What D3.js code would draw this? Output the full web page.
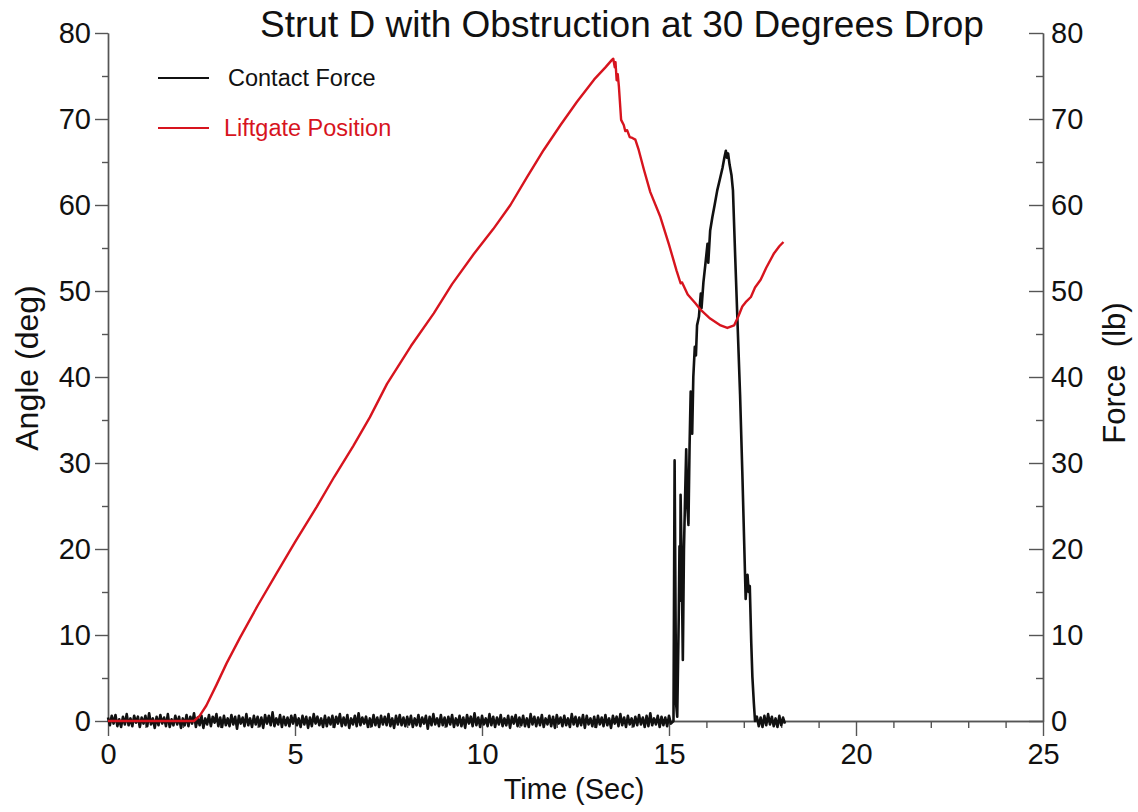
<!DOCTYPE html>
<html>
<head>
<meta charset="utf-8">
<script src="https://cdn.jsdelivr.net/npm/d3@7"></script>
<style>
  body { margin: 0; background: #fff; }
  svg { display: block; font-family: Arial, "Liberation Sans", sans-serif; }
  .axis path, .axis line { stroke: #555; stroke-width: 1.4; }
  .axis text { font-size: 29px; fill: #111; font-family: Arial, "Liberation Sans", sans-serif; }
</style>
</head>
<body>
<svg id="chart" width="1138" height="812"></svg>
<script>
// Liftgate position (deg)
var angleTime = [0, 2.3, 2.45, 2.63, 2.9, 3.17, 3.53, 4.0, 4.51, 5.0, 5.58, 6.05, 6.56, 7.0, 7.46, 8.1, 8.71, 9.2, 9.78,
    10.3, 10.76, 11.2, 11.65, 12.1, 12.54, 13.0, 13.3, 13.48, 13.51, 13.55, 13.57, 13.6, 13.63, 13.66, 13.72, 13.79, 13.83,
    13.88, 13.95, 14.02, 14.1, 14.19, 14.33, 14.5, 14.77, 15.0, 15.2, 15.31, 15.35, 15.5, 15.7, 15.85, 16.1, 16.38, 16.56,
    16.74, 16.85, 16.96, 17.05, 17.19, 17.3, 17.45, 17.6, 17.81, 17.95, 18.06];
var angleDeg = [0, 0, 0.6, 1.8, 4.2, 6.7, 9.7, 13.4, 17.2, 20.8, 24.9, 28.4, 32.0, 35.3, 39.2, 43.6, 47.4, 50.8, 54.3,
    57.2, 60.0, 63.2, 66.4, 69.3, 72.0, 74.6, 76.0, 76.9, 77.0, 76.0, 76.6, 74.5, 75.2, 73.8, 69.9, 69.3, 68.6,
    68.7, 67.9, 67.8, 67.6, 66.4, 64.1, 61.5, 58.6, 55.4, 52.4, 50.9, 51.0, 49.6, 48.6, 47.8, 46.8, 46.0, 45.7,
    46.0, 47.0, 48.2, 48.7, 49.3, 50.4, 51.3, 52.7, 54.4, 55.2, 55.7];

// Contact force (lb): baseline noise before contact, sampled every 0.05 s from t = 0
var noiseStep = 0.05;
var forceNoiseBefore = [
    0.4,-0.5,0.6,-0.3,0.7,-0.6,0.2,-0.7,0.5,-0.4,0.8,-0.5,0.3,-0.6,0.6,-0.2,0.5,-0.7,0.4,-0.3,
    0.6,-0.6,0.9,-0.4,0.3,-0.8,0.5,-0.5,0.7,-0.3,0.4,-0.6,0.8,-0.7,0.2,-0.5,0.6,-0.4,0.5,-0.8,
    0.3,-0.5,0.7,-0.6,0.5,-0.3,0.9,-0.7,0.4,-0.5,0.6,-0.8,0.3,-0.4,0.7,-0.6,0.5,-0.2,0.8,-0.6,
    0.4,-0.7,0.6,-0.5,0.3,-0.6,0.7,-0.4,0.5,-0.9,0.6,-0.3,0.4,-0.6,0.8,-0.5,0.3,-0.7,0.6,-0.4,
    0.5,-0.6,0.4,-0.8,0.7,-0.3,0.6,-0.5,1.0,-0.6,0.3,-0.4,0.7,-0.7,0.5,-0.5,0.4,-0.6,0.6,-0.3,
    0.7,-0.5,0.3,-0.7,0.6,-0.4,0.5,-0.8,0.4,-0.6,0.8,-0.3,0.5,-0.5,0.3,-0.7,0.6,-0.6,0.4,-0.4,
    0.6,-0.7,0.5,-0.3,0.8,-0.6,0.4,-0.5,0.7,-0.8,0.3,-0.4,0.6,-0.6,0.9,-0.5,0.4,-0.3,0.5,-0.7,
    0.3,-0.6,0.7,-0.5,0.4,-0.7,0.6,-0.4,0.5,-0.5,0.8,-0.6,0.3,-0.8,0.6,-0.4,0.7,-0.5,0.4,-0.6,
    0.5,-0.4,0.6,-0.7,0.3,-0.5,0.7,-0.6,0.4,-0.3,0.6,-0.9,0.5,-0.5,0.8,-0.4,0.3,-0.6,0.7,-0.5,
    0.4,-0.6,0.5,-0.4,0.7,-0.7,0.3,-0.5,0.6,-0.6,0.4,-0.8,0.7,-0.3,0.5,-0.6,0.9,-0.5,0.4,-0.7,
    0.6,-0.4,0.3,-0.6,0.8,-0.5,0.5,-0.7,0.4,-0.4,0.7,-0.6,0.3,-0.5,0.6,-0.8,0.5,-0.3,0.7,-0.6,
    0.4,-0.5,0.6,-0.6,0.3,-0.7,0.8,-0.4,0.5,-0.6,0.4,-0.5,0.7,-0.7,0.3,-0.4,0.6,-0.6,0.5,-0.8,
    0.7,-0.3,0.4,-0.6,0.6,-0.5,0.3,-0.7,0.8,-0.4,0.5,-0.6,0.4,-0.5,0.7,-0.8,0.6,-0.4,0.3,-0.6,
    0.5,-0.7,0.6,-0.4,0.4,-0.6,0.7,-0.5,0.3,-0.8,0.6,-0.3,0.5,-0.6,0.8,-0.5,0.4,-0.7,0.6,-0.4,
    0.3,-0.6,0.5,-0.5,0.7,-0.4,0.4,-0.7,0.6,-0.6,0.9,-0.5,0.3,-0.4,0.6,-0.7,0.5,-0.5,0.4,-0.6,
    0.6,-0.3];

// Contact event
var impactTime = [15.12, 15.15, 15.19, 15.22, 15.26, 15.28, 15.30, 15.31, 15.34, 15.37, 15.40, 15.43, 15.46, 15.49,
    15.52, 15.55, 15.58, 15.62, 15.65, 15.69, 15.72, 15.75, 15.80, 15.85, 15.87, 15.92, 15.97, 16.03, 16.05, 16.10,
    16.16, 16.22, 16.29, 16.36, 16.43, 16.48, 16.52, 16.55, 16.58, 16.62, 16.67, 16.71, 16.77, 16.83, 16.90, 16.96,
    17.03, 17.05, 17.08, 17.10, 17.13, 17.16, 17.20, 17.23, 17.27, 17.30];
var impactForce = [0, 30.3, 2, 0.5, 12, 20.3, 14, 26.3, 18, 7.1, 20, 26, 31.6, 25,
    22.8, 32, 38.3, 33.4, 40, 43.5, 42.5, 46, 47, 49.7, 48.0, 51, 53, 55.5, 53.3, 57,
    58.6, 60, 61.7, 63, 64.3, 65.5, 66.3, 65.5, 66, 64.7, 63.5, 61.7, 54, 46.6, 38, 29.0,
    17.5, 14.2, 16.5, 17.0, 15, 15.7, 9, 5.1, 2, 0];

// Baseline noise after contact, every 0.05 s from t = 17.30
var afterStart = 17.30;
var forceNoiseAfter = [0.5,-0.6,0.4,-0.7,0.6,-0.5,0.8,-0.4,0.5,-0.6,0.3,-0.7,0.6,-0.5,0.4,-0.3];

var xTicks = [0, 5, 10, 15, 20, 25];
var yTicks = [0, 10, 20, 30, 40, 50, 60, 70, 80];

// build series
var anglePts = angleTime.map(function(t, i) { return [t, angleDeg[i]]; });
var forcePts = forceNoiseBefore.map(function(v, i) { return [i * noiseStep, v]; })
    .concat(impactTime.map(function(t, i) { return [t, impactForce[i]]; }))
    .concat(forceNoiseAfter.map(function(v, i) { return [afterStart + (i + 1) * noiseStep, v]; }));

var svg = d3.select("#chart");
svg.append("rect").attr("width", 1138).attr("height", 812).attr("fill", "#fff");

var margin = {left: 108, right: 1043, top: 33, bottom: 721};

var x = d3.scaleLinear().domain([0, 25]).range([margin.left, margin.right]);
var yAngle = d3.scaleLinear().domain([0, 80]).range([margin.bottom, margin.top]);
var yForce = d3.scaleLinear().domain([0, 80]).range([margin.bottom, margin.top]);

// minor ticks
var xMinor = d3.range(1, 25).filter(function(d) { return d % 5 != 0; });
var yMinor = d3.range(5, 80, 10);

// Axes
svg.append("g")
    .attr("class", "x axis")
    .attr("transform", "translate(0," + margin.bottom + ")")
    .call(d3.axisBottom(x).tickValues(xMinor).tickSize(7).tickSizeOuter(0).tickFormat(""));

svg.append("g")
    .attr("class", "x axis")
    .attr("transform", "translate(0," + margin.bottom + ")")
    .call(d3.axisBottom(x).tickValues(xTicks).tickSize(15).tickSizeOuter(0).tickPadding(7));

svg.append("g")
    .attr("class", "y axis")
    .attr("transform", "translate(" + margin.left + ",0)")
    .call(d3.axisLeft(yAngle).tickValues(yMinor).tickSize(6).tickSizeOuter(0).tickFormat(""));

svg.append("g")
    .attr("class", "y axis")
    .attr("transform", "translate(" + margin.left + ",0)")
    .call(d3.axisLeft(yAngle).tickValues(yTicks).tickSize(13).tickSizeOuter(0).tickPadding(4));

svg.append("g")
    .attr("class", "y axis")
    .attr("transform", "translate(" + margin.right + ",0)")
    .call(d3.axisRight(yForce).tickValues(yMinor).tickSize(-7).tickSizeOuter(0).tickFormat(""));

svg.append("g")
    .attr("class", "y axis right")
    .attr("transform", "translate(" + margin.right + ",0)")
    .call(d3.axisRight(yForce).tickValues(yTicks).tickSize(-14).tickSizeOuter(0).tickPadding(8));

// Lines
var forceLine = d3.line()
    .x(function(d) { return x(d[0]); })
    .y(function(d) { return yForce(d[1]); });

var angleLine = d3.line()
    .x(function(d) { return x(d[0]); })
    .y(function(d) { return yAngle(d[1]); });

svg.append("path")
    .datum(forcePts)
    .attr("fill", "none")
    .attr("stroke", "#111")
    .attr("stroke-width", 2.6)
    .attr("stroke-linejoin", "round")
    .attr("d", forceLine);

svg.append("path")
    .datum(anglePts)
    .attr("fill", "none")
    .attr("stroke", "#d7141e")
    .attr("stroke-width", 2.4)
    .attr("stroke-linejoin", "round")
    .attr("d", angleLine);

// Title
svg.append("text")
    .attr("x", 622)
    .attr("y", 37)
    .attr("text-anchor", "middle")
    .attr("font-size", "37px")
    .attr("fill", "#111")
    .text("Strut D with Obstruction at 30 Degrees Drop");

// Axis titles
svg.append("text")
    .attr("transform", "translate(38,368) rotate(-90)")
    .attr("text-anchor", "middle")
    .attr("font-size", "32px")
    .attr("fill", "#111")
    .text("Angle (deg)");

svg.append("text")
    .attr("transform", "translate(1125,373) rotate(-90)")
    .attr("text-anchor", "middle")
    .attr("font-size", "31px")
    .attr("fill", "#111")
    .attr("xml:space", "preserve")
    .style("white-space", "pre")
    .text("Force  (lb)");

svg.append("text")
    .attr("x", 574)
    .attr("y", 799)
    .attr("text-anchor", "middle")
    .attr("font-size", "29px")
    .attr("fill", "#111")
    .text("Time (Sec)");

// Legend
var legend = [
    {name: "Contact Force", color: "#111", y: 78},
    {name: "Liftgate Position", color: "#d7141e", y: 128}
];

var items = svg.selectAll("g.legend")
    .data(legend)
    .enter()
    .append("g")
    .attr("class", "legend");

items.append("line")
    .attr("x1", 158).attr("x2", 209)
    .attr("y1", function(d) { return d.y; })
    .attr("y2", function(d) { return d.y; })
    .attr("stroke", function(d) { return d.color; })
    .attr("stroke-width", 1.8);

items.append("text")
    .attr("x", function(d, i) { return i == 0 ? 228 : 224; })
    .attr("y", function(d) { return d.y + 8; })
    .attr("font-size", "23.5px")
    .attr("fill", function(d) { return d.color; })
    .text(function(d) { return d.name; });
</script>
</body>
</html>
